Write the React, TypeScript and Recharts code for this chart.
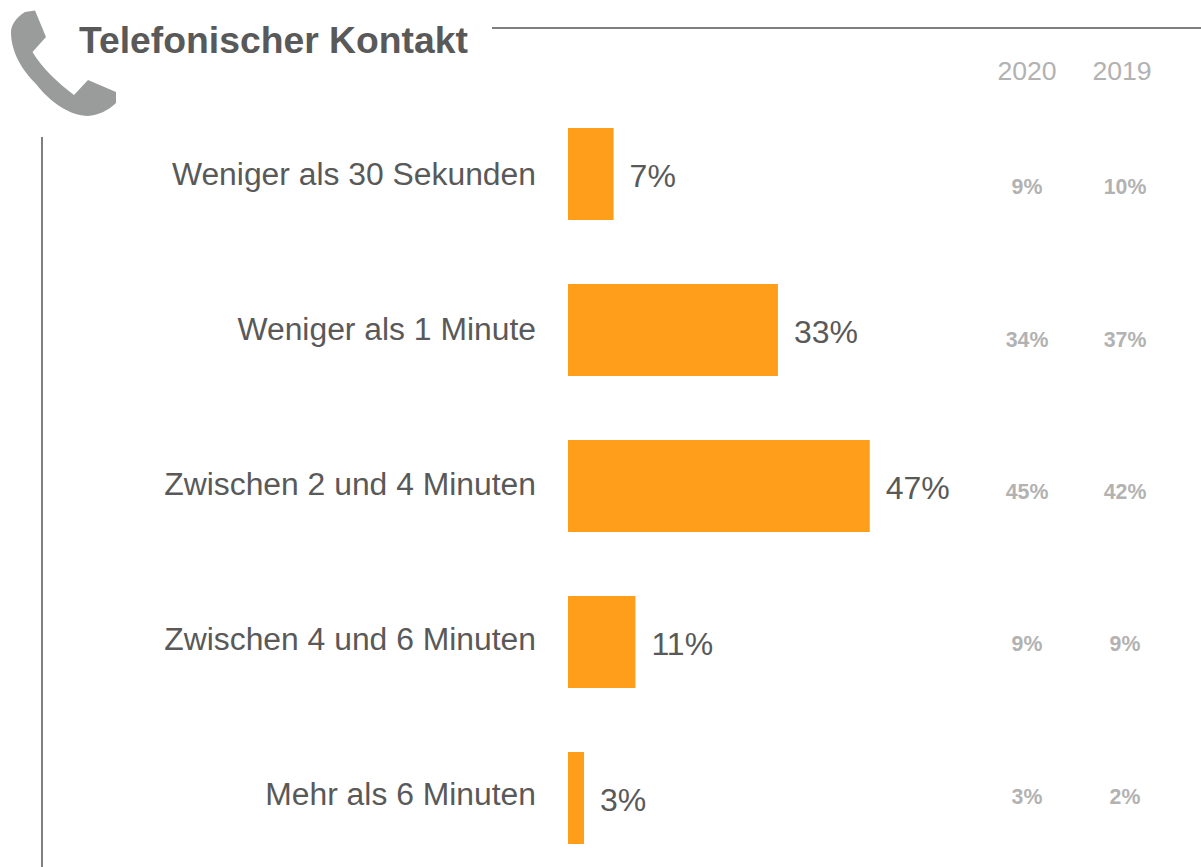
import { BarChart, Bar, XAxis, YAxis, LabelList } from "recharts"

const categories = [
  "Weniger als 30 Sekunden",
  "Weniger als 1 Minute",
  "Zwischen 2 und 4 Minuten",
  "Zwischen 4 und 6 Minuten",
  "Mehr als 6 Minuten",
]
// shares behind the rounded labels
const values2021 = [7.1, 32.7, 47, 10.5, 2.5]
const values2020 = [9, 34, 45, 9, 3]
const values2019 = [10, 37, 42, 9, 2]

const chartData = categories.map((name, i) => ({
  name,
  current: values2021[i],
  y2020: values2020[i],
  y2019: values2019[i],
}))

const FONT = "'Liberation Sans', Arial, sans-serif"

// Tick for the two history columns, centred on its column
function HistoryTick({ x, y, index, values }: any) {
  return (
    <text x={x} y={y} dy={7} textAnchor="middle" fontFamily={FONT} fontSize={21.3} fontWeight={700} fill="#b2b2b2">
      {values[index]}%
    </text>
  )
}

export default function App() {
  return (
    <div style={{ position: "absolute", left: 0, top: 0, width: 1201, height: 867, overflow: "hidden", background: "#fff" }}>
      <BarChart
        width={1201}
        height={880}
        data={chartData}
        layout="vertical"
        margin={{ top: 96, right: 0, bottom: 4, left: 0 }}
      >
        <XAxis type="number" hide domain={[0, 50]} />
        {/* bars sit on their own hidden axis, the labels run on a slightly tighter pitch */}
        <YAxis yAxisId="bars" type="category" dataKey="name" hide width={0} />
        <YAxis
          yAxisId="labels"
          type="category"
          dataKey="name"
          width={568}
          padding={{ top: 0, bottom: 5 }}
          axisLine={false}
          tickLine={false}
          tickSize={0}
          tickMargin={32}
          interval={0}
          tick={{ fontFamily: FONT, fontSize: 31.85, fill: "#595959" }}
        />
        {/* right axes stack in id order */}
        <YAxis
          yAxisId="a2020"
          orientation="right"
          type="category"
          dataKey="name"
          width={187}
          padding={{ top: 15, bottom: 3 }}
          axisLine={false}
          tickLine={false}
          tickSize={0}
          tickMargin={138}
          interval={0}
          tick={<HistoryTick values={values2020} />}
        />
        <YAxis
          yAxisId="b2019"
          orientation="right"
          type="category"
          dataKey="name"
          width={125}
          padding={{ top: 15, bottom: 3 }}
          axisLine={false}
          tickLine={false}
          tickSize={0}
          tickMargin={49}
          interval={0}
          tick={<HistoryTick values={values2019} />}
        />
        <Bar yAxisId="bars" dataKey="current" barSize={92} fill="#ff9e1b" isAnimationActive={false}>
          <LabelList
            dataKey="current"
            position="right"
            offset={16}
            dy={2}
            formatter={(v: any) => `${Math.round(v)}%`}
            style={{ fontFamily: FONT, fontSize: 32, fill: "#595959" }}
          />
        </Bar>

        {/* header decoration */}
        <path
          d="M25 12 L35 10.5 L46 37 L32.5 52 C42 68 58 83 74 95 L88 80 L116 92 L116 103 C108 111 98 115 88 116 C70 116 50 102 36 84 C22 70 11 52 11 32 C11 24 18 16 25 12 Z"
          fill="#9a9c9b"
        />
        <text x={79} y={53} fontFamily={FONT} fontSize={37.3} fontWeight={700} fill="#595959">
          Telefonischer Kontakt
        </text>
        <line x1={492} y1={28} x2={1201} y2={28} stroke="#7f7f7f" strokeWidth={2} />
        <line x1={42} y1={137} x2={42} y2={867} stroke="#7f7f7f" strokeWidth={2} />
        <text x={1027} y={80} textAnchor="middle" fontFamily={FONT} fontSize={26.6} fill="#b2b2b2">2020</text>
        <text x={1122} y={80} textAnchor="middle" fontFamily={FONT} fontSize={26.6} fill="#b2b2b2">2019</text>
      </BarChart>
    </div>
  )
}
